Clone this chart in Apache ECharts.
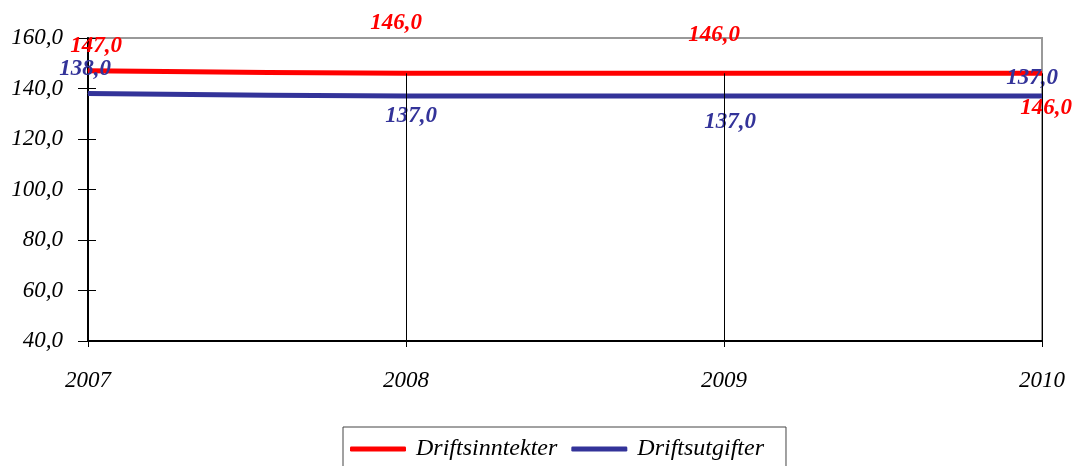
<!DOCTYPE html>
<html>
<head>
<meta charset="utf-8">
<script src="https://cdn.jsdelivr.net/npm/echarts@6/dist/echarts.min.js"></script>
<style>
  html, body { margin: 0; padding: 0; background: #fff; }
  #chart { width: 1077px; height: 466px; }
</style>
</head>
<body>
<div id="chart"></div>
<script>
// data
const years = ['2007', '2008', '2009', '2010'];
const inntekter = [147, 146, 146, 146];
const utgifter = [138, 137, 137, 137];
const yMin = 40;
const yMax = 160;

// label offsets (relative to each point) as in the original
const redOffsets = [[8, -25], [-10, -50], [-10, -38], [4, 35]];
const blueOffsets = [[-3, -24], [5, 20], [6, 26], [-10, -18]];

const fmt = v => Number(v).toFixed(1).replace('.', ',');
const serif = '"Liberation Serif", "DejaVu Serif", serif';

function withLabels(values, offsets) {
  return values.map((v, i) => ({
    value: v,
    label: { offset: offsets[i] }
  }));
}

// drop lines from red points down to the axis (not at the first year)
const dropLines = years.slice(1).map((y, i) => [
  { coord: [y, inntekter[i + 1]] },
  { coord: [y, yMin] }
]);

let myChart = echarts.init(document.getElementById('chart'));
let option = {
  animation: false,
  grid: {
    left: 88,
    right: 35,
    top: 38,
    bottom: 125,
    show: true,
    borderColor: '#999',
    borderWidth: 2
  },
  legend: {
    left: 343,
    top: 427,
    padding: [10, 22, 20, 7],
    borderColor: '#444',
    borderWidth: 1,
    itemGap: 14,
    itemWidth: 56,
    itemHeight: 5,
    icon: 'roundRect',
    textStyle: {
      fontFamily: serif,
      fontStyle: 'italic',
      fontSize: 24,
      color: '#000',
      padding: [0, 0, 0, 5]
    },
    data: ['Driftsinntekter', 'Driftsutgifter']
  },
  xAxis: {
    type: 'category',
    boundaryGap: false,
    data: years,
    axisLine: { lineStyle: { color: '#000', width: 2 } },
    axisTick: { show: true, length: 6, lineStyle: { color: '#000' } },
    axisLabel: {
      margin: 28,
      fontFamily: serif,
      fontStyle: 'italic',
      fontSize: 23,
      color: '#000'
    },
    splitLine: { show: false }
  },
  yAxis: [{
    type: 'value',
    min: yMin,
    max: yMax,
    interval: 20,
    axisLine: { show: true, lineStyle: { color: '#000', width: 2 } },
    axisTick: { show: true, length: 10, lineStyle: { color: '#000' } },
    axisLabel: {
      margin: 25,
      formatter: fmt,
      fontFamily: serif,
      fontStyle: 'italic',
      fontSize: 23,
      color: '#000'
    },
    splitLine: { show: false }
  }, {
    type: 'value',
    position: 'left',
    offset: -8,
    min: yMin,
    max: yMax,
    interval: 20,
    axisLine: { show: true, lineStyle: { color: 'rgba(0,0,0,0)' } },
    axisTick: { show: true, length: 8, lineStyle: { color: '#000' } },
    axisLabel: { show: false },
    splitLine: { show: false }
  }],
  series: [{
    name: 'Driftsinntekter',
    type: 'line',
    smooth: 0.3,
    symbol: 'circle',
    symbolSize: 1,
    showSymbol: true,
    z: 3,
    lineStyle: { color: '#ff0000', width: 5 },
    itemStyle: { color: '#ff0000' },
    label: {
      show: true,
      position: 'inside',
      formatter: p => fmt(p.value),
      fontFamily: serif,
      fontStyle: 'italic',
      fontWeight: 'bold',
      fontSize: 23,
      color: '#ff0000'
    },
    data: withLabels(inntekter, redOffsets),
    markLine: {
      silent: true,
      symbol: 'none',
      label: { show: false },
      lineStyle: { color: '#000', width: 1, type: 'solid' },
      data: dropLines
    }
  }, {
    name: 'Driftsutgifter',
    type: 'line',
    smooth: 0.3,
    symbol: 'circle',
    symbolSize: 1,
    showSymbol: true,
    z: 3,
    lineStyle: { color: '#333399', width: 5 },
    itemStyle: { color: '#333399' },
    label: {
      show: true,
      position: 'inside',
      formatter: p => fmt(p.value),
      fontFamily: serif,
      fontStyle: 'italic',
      fontWeight: 'bold',
      fontSize: 23,
      color: '#333399'
    },
    data: withLabels(utgifter, blueOffsets)
  }]
};
myChart.setOption(option, true);

window.addEventListener('resize', () => {
  myChart.resize();
});
</script>
</body>
</html>
